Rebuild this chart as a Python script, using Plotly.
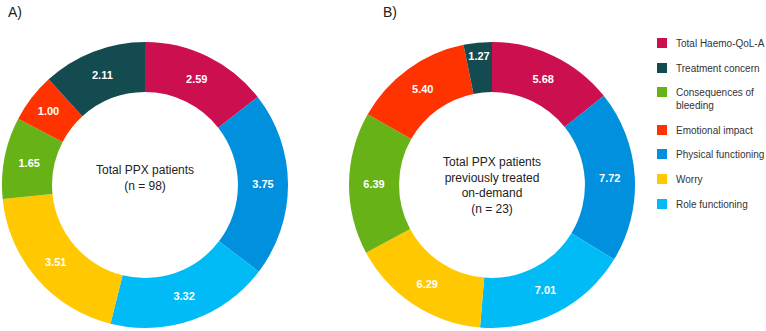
import plotly.graph_objects as go

# Slice order (clockwise from 12 o'clock)
slice_labels = ["Total Haemo-QoL-A", "Physical functioning", "Role functioning", "Worry",
                "Consequences of bleeding", "Emotional impact", "Treatment concern"]
values_a = [2.59, 3.75, 3.32, 3.51, 1.65, 1.00, 2.11]
values_b = [5.68, 7.72, 7.01, 6.29, 6.39, 5.40, 1.27]
slice_colors = ["#CC0F4F", "#0090DD", "#00BBF5", "#FFC800", "#66B217", "#FF3300", "#134B50"]

# Legend order
legend_labels = ["Total Haemo-QoL-A", "Treatment concern", "Consequences of<br>bleeding",
                 "Emotional impact", "Physical functioning", "Worry", "Role functioning"]
legend_colors = ["#CC0F4F", "#134B50", "#66B217", "#FF3300", "#0090DD", "#FFC800", "#00BBF5"]

center_a = "Total PPX patients<br>(n = 98)"
center_b = "Total PPX patients<br>previously treated<br>on-demand<br>(n = 23)"

W, H = 766, 331
FONT = "Liberation Sans, Arial, sans-serif"

def px_x(v):
    return v / W

def px_y(v):
    return 1 - v / H

fig = go.Figure()

for vals, xd in [(values_a, [2, 288]), (values_b, [349, 635])]:
    fig.add_trace(go.Pie(
        labels=slice_labels, values=vals, sort=False, direction="clockwise", rotation=0,
        hole=0.65, marker=dict(colors=slice_colors, line=dict(width=0)),
        texttemplate="<b>%{value:.2f}</b>", textposition="inside",
        insidetextorientation="horizontal",
        textfont=dict(color="white", size=11, family=FONT),
        domain=dict(x=[px_x(xd[0]), px_x(xd[1])], y=[px_y(328), px_y(42)]),
        showlegend=False, hoverinfo="label+value",
    ))

# Manual legend (square swatch + text), in legend order
legend_rows = [43, 68, 92, 130, 154, 179, 204]
shapes = []
annotations = []
for lab, col, yc in zip(legend_labels, legend_colors, legend_rows):
    shapes.append(dict(type="rect", xref="paper", yref="paper",
                       x0=px_x(657), x1=px_x(667), y0=px_y(yc + 5), y1=px_y(yc - 5),
                       fillcolor=col, line=dict(width=0)))
    annotations.append(dict(text=lab, x=px_x(674), y=px_y(yc - 7), xref="paper", yref="paper",
                            xanchor="left", yanchor="top", align="left", showarrow=False,
                            font=dict(size=10, color="#333333")))

annotations += [
    dict(text=center_a, x=px_x(145), y=px_y(178), xref="paper", yref="paper",
         xanchor="center", yanchor="middle",
         showarrow=False, font=dict(size=12, color="#222222")),
    dict(text=center_b, x=px_x(492), y=px_y(185), xref="paper", yref="paper",
         xanchor="center", yanchor="middle",
         showarrow=False, font=dict(size=12, color="#222222")),
    dict(text="A)", x=px_x(6), y=px_y(12), xref="paper", yref="paper",
         xanchor="left", yanchor="middle", showarrow=False, font=dict(size=14, color="#222222")),
    dict(text="B)", x=px_x(381), y=px_y(12), xref="paper", yref="paper",
         xanchor="left", yanchor="middle", showarrow=False, font=dict(size=14, color="#222222")),
]

fig.update_layout(
    width=W, height=H, margin=dict(l=0, r=0, t=0, b=0),
    paper_bgcolor="white", plot_bgcolor="white",
    font=dict(family=FONT, size=11, color="#222222"),
    showlegend=False,
    shapes=shapes, annotations=annotations,
)

fig.write_html("out.html", config={"displayModeBar": False},
               post_script="document.body.style.margin='0';")
